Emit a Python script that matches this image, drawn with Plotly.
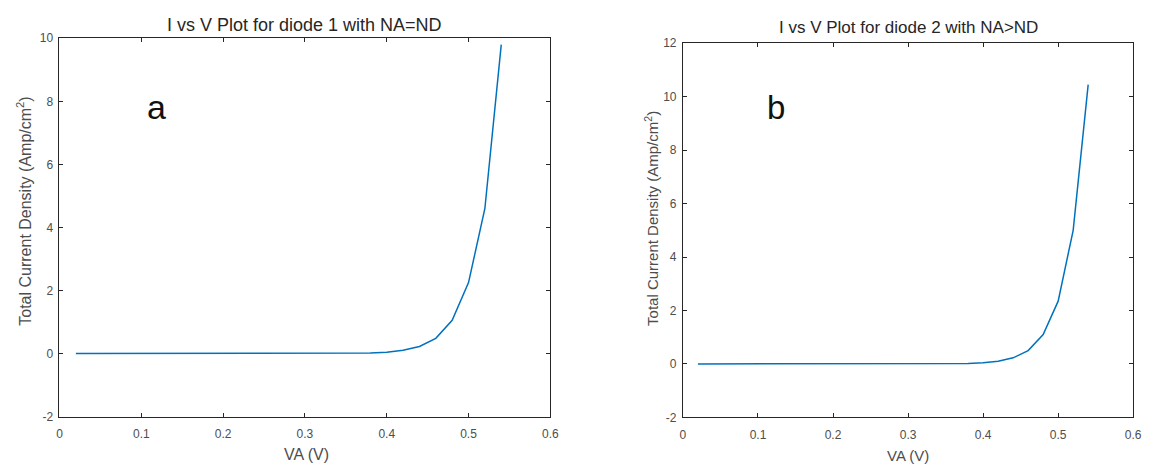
import plotly.graph_objects as go

# Data
va = [0.02, 0.04, 0.06, 0.08, 0.10, 0.12, 0.14, 0.16, 0.18, 0.20, 0.22, 0.24, 0.26, 0.28,
      0.30, 0.32, 0.34, 0.36, 0.38, 0.40, 0.42, 0.44, 0.46, 0.48, 0.50, 0.52, 0.54]
j_diode1 = [0.0, 0.0, 0.0, 0.0, 0.0, 0.0, 0.0, 0.0, 0.0, 0.0, 0.0, 0.0, 0.0, 0.0,
            0.0, 0.0, 0.0, 0.005, 0.015, 0.04, 0.1, 0.22, 0.48, 1.05, 2.25, 4.6, 9.8]
j_diode2 = [0.0, 0.0, 0.0, 0.0, 0.0, 0.0, 0.0, 0.0, 0.0, 0.0, 0.0, 0.0, 0.0, 0.0,
            0.0, 0.0, 0.005, 0.01, 0.02, 0.05, 0.1, 0.23, 0.5, 1.1, 2.35, 5.0, 10.45]
x_ticks = [0, 0.1, 0.2, 0.3, 0.4, 0.5, 0.6]
y1_ticks = [-2, 0, 2, 4, 6, 8, 10]
y2_ticks = [-2, 0, 2, 4, 6, 8, 10, 12]

# page has an 8px body margin: the figure occupies page pixels 8..1162 x 8..472
OFF = 8
W, H = 1162 - OFF, 472 - OFF
def px(x):
    return (x - OFF) / W
def py(y):
    return 1 - (y - OFF) / H

FONT = "Liberation Sans, Arial, sans-serif"
LINE = "#0072BD"
TXT = "#4d4d4d"
TTL = "#262626"

fig = go.Figure()
fig.add_trace(go.Scatter(x=va, y=j_diode1, mode="lines", line=dict(color=LINE, width=1.5),
                         xaxis="x", yaxis="y", showlegend=False))
fig.add_trace(go.Scatter(x=va, y=j_diode2, mode="lines", line=dict(color=LINE, width=1.5),
                         xaxis="x2", yaxis="y2", showlegend=False))

axis_common = dict(showgrid=False, zeroline=False, showline=True, linecolor="#262626",
                   linewidth=1, mirror="allticks", ticks="inside", ticklen=4,
                   tickcolor="#262626", tickfont=dict(family=FONT, size=12, color=TXT))

fig.update_layout(
    width=W, height=H,
    margin=dict(l=0, r=0, t=0, b=0),
    paper_bgcolor="white", plot_bgcolor="white",
    font=dict(family=FONT, color=TXT),
    xaxis=dict(domain=[px(57), px(553)], range=[0, 0.6], tickvals=x_ticks,
               ticktext=[str(t) for t in x_ticks], anchor="y", ticklabelstandoff=6,
               **axis_common),
    yaxis=dict(domain=[py(422), py(32)], range=[-2, 10], tickvals=y1_ticks,
               ticktext=[str(t) for t in y1_ticks], anchor="x", ticklabelstandoff=3,
               **axis_common),
    xaxis2=dict(domain=[px(687), px(1142)], range=[0, 0.6], tickvals=x_ticks,
                ticktext=[str(t) for t in x_ticks], anchor="y2", ticklabelstandoff=6,
                **axis_common),
    yaxis2=dict(domain=[py(423), py(37)], range=[-2, 12], tickvals=y2_ticks,
                ticktext=[str(t) for t in y2_ticks], anchor="x2", ticklabelstandoff=3,
                **axis_common),
)

ann = [
    dict(text="I vs V Plot for diode 1 with NA=ND", x=px(305), y=py(18), size=18, color=TTL),
    dict(text="I vs V Plot for diode 2 with NA>ND", x=px(915), y=py(21), size=17, color=TTL),
    dict(text="VA (V)", x=px(307), y=py(461), size=16, color=TXT),
    dict(text="VA (V)", x=px(914), y=py(462), size=15, color=TXT),
    dict(text="a", x=px(155), y=py(103), size=34, color="#111111"),
    dict(text="b", x=px(781), y=py(103), size=33, color="#111111"),
]
for a in ann:
    fig.add_annotation(text=a["text"], x=a["x"], y=a["y"], xref="paper", yref="paper",
                       showarrow=False, xanchor="center", yanchor="middle",
                       font=dict(family=FONT, size=a["size"], color=a["color"]))

fig.add_annotation(text="Total Current Density (Amp/cm<sup>2</sup>)", x=px(21), y=py(210),
                   xref="paper", yref="paper", showarrow=False, textangle=-90,
                   xanchor="center", yanchor="middle",
                   font=dict(family=FONT, size=16, color=TXT))
fig.add_annotation(text="Total Current Density (Amp/cm<sup>2</sup>)", x=px(655), y=py(218),
                   xref="paper", yref="paper", showarrow=False, textangle=-90,
                   xanchor="center", yanchor="middle",
                   font=dict(family=FONT, size=15, color=TXT))

fig.write_html("out.html")
